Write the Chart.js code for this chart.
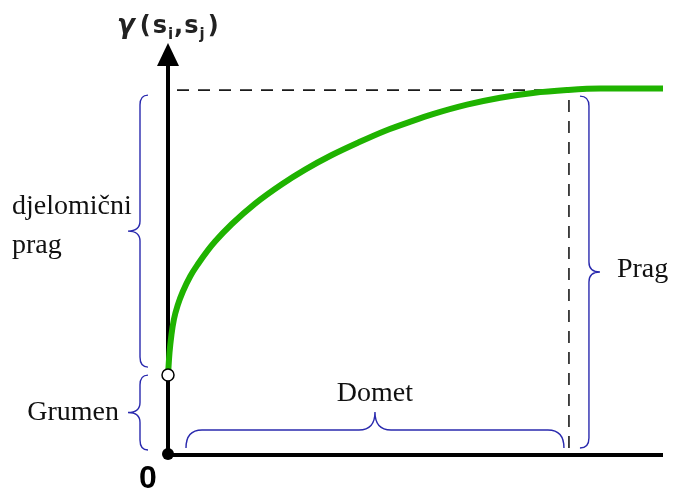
<!DOCTYPE html>
<html>
<head>
<meta charset="utf-8">
<script src="https://cdn.jsdelivr.net/npm/chart.js@4/dist/chart.umd.min.js"></script>
<style>
  html, body { margin: 0; padding: 0; background: #fff; }
  #c { display: block; }
</style>
</head>
<body>
<canvas id="c" width="675" height="492"></canvas>
<script>
// ---- data ----
const distances   = [0, 0.03, 0.07, 0.12, 0.20, 0.30, 0.45, 0.61, 0.80, 0.95, 1.29, 1.76, 2.30, 2.77, 3.31, 3.84, 4.38, 4.93, 5.35, 6.04, 6.71, 7.37, 8.06, 8.73, 10];
const gammaValues = [2.19, 2.80, 3.30, 3.72, 4.12, 4.48, 4.90, 5.24, 5.60, 5.85, 6.33, 6.89, 7.42, 7.82, 8.22, 8.56, 8.88, 9.15, 9.34, 9.60, 9.79, 9.92, 10.0, 10.04, 10.04];
const nugget = 2.19;
const sill = 10;
const range = 8.1;
const xMax = 10;
const yMax = 11.29;
const labels = { nugget: 'Grumen', partial: ['djelomični', 'prag'], range: 'Domet', sill: 'Prag', origin: '0' };

const BLUE = '#2a2aae';
const SERIF = '28px "Liberation Serif", "Times New Roman", serif';

function brace(ctx, orient, a, b, c, dir, endH, tipH, r) {
  const m = (a + b) / 2;
  ctx.beginPath();
  if (orient === 'v') {
    ctx.moveTo(c - dir * endH, a);
    ctx.quadraticCurveTo(c, a, c, a + r);
    ctx.lineTo(c, m - r);
    ctx.quadraticCurveTo(c, m, c + dir * tipH, m);
    ctx.quadraticCurveTo(c, m, c, m + r);
    ctx.lineTo(c, b - r);
    ctx.quadraticCurveTo(c, b, c - dir * endH, b);
  } else {
    ctx.moveTo(a, c - dir * endH);
    ctx.quadraticCurveTo(a, c, a + r, c);
    ctx.lineTo(m - r, c);
    ctx.quadraticCurveTo(m, c, m, c + dir * tipH);
    ctx.quadraticCurveTo(m, c, m + r, c);
    ctx.lineTo(b - r, c);
    ctx.quadraticCurveTo(b, c, b, c - dir * endH);
  }
  ctx.stroke();
  return m;
}

const decor = {
  id: 'decor',
  beforeDatasetsDraw(chart) {
    const ctx = chart.ctx;
    const xs = chart.scales.x, ys = chart.scales.y;
    const x0 = xs.getPixelForValue(0), y0 = ys.getPixelForValue(0);
    const xEnd = xs.getPixelForValue(xMax);
    const yTop = ys.getPixelForValue(yMax);
    const ySill = ys.getPixelForValue(sill);
    const xRange = xs.getPixelForValue(range);
    ctx.save();
    ctx.strokeStyle = '#1a1a1a';
    ctx.lineWidth = 1.6;
    ctx.setLineDash([12, 9]);
    ctx.beginPath();
    ctx.moveTo(x0 + 9, ySill); ctx.lineTo(xRange, ySill);
    ctx.moveTo(xRange, ySill + 10); ctx.lineTo(xRange, y0);
    ctx.stroke();
    ctx.setLineDash([]);
    ctx.strokeStyle = '#000';
    ctx.lineWidth = 4;
    ctx.beginPath();
    ctx.moveTo(x0, y0); ctx.lineTo(xEnd, y0);
    ctx.moveTo(x0, y0); ctx.lineTo(x0, yTop + 20);
    ctx.stroke();
    ctx.fillStyle = '#000';
    ctx.beginPath();
    ctx.moveTo(x0, yTop);
    ctx.lineTo(x0 - 11, yTop + 23);
    ctx.lineTo(x0 + 11, yTop + 23);
    ctx.closePath();
    ctx.fill();
    ctx.restore();
  },
  afterDatasetsDraw(chart) {
    const ctx = chart.ctx;
    const xs = chart.scales.x, ys = chart.scales.y;
    const x0 = xs.getPixelForValue(0), y0 = ys.getPixelForValue(0);
    const yTop = ys.getPixelForValue(yMax);
    const ySill = ys.getPixelForValue(sill);
    const yNug = ys.getPixelForValue(nugget);
    const xRange = xs.getPixelForValue(range);
    ctx.save();
    ctx.fillStyle = '#000';
    ctx.beginPath(); ctx.arc(x0, y0 - 1, 6, 0, Math.PI * 2); ctx.fill();
    ctx.fillStyle = '#fff';
    ctx.strokeStyle = '#000';
    ctx.lineWidth = 1.5;
    ctx.beginPath(); ctx.arc(x0, yNug, 6, 0, Math.PI * 2); ctx.fill(); ctx.stroke();

    ctx.strokeStyle = BLUE;
    ctx.lineWidth = 1.4;
    const bx = x0 - 28;
    const mPartial = brace(ctx, 'v', ySill + 5, yNug - 8, bx, -1, 8, 12, 10);
    const mNug = brace(ctx, 'v', yNug, y0 - 5, bx, -1, 8, 12, 10);
    brace(ctx, 'h', x0 + 18, xRange - 5, y0 - 25, -1, 18, 18, 16);
    const mSill = brace(ctx, 'v', ySill + 6, y0 - 7, xRange + 20, 1, 9, 11, 10);

    ctx.fillStyle = '#111';
    ctx.font = SERIF;
    ctx.textBaseline = 'middle';
    ctx.textAlign = 'left';
    ctx.fillText(labels.partial[0], 12, mPartial - 24);
    ctx.fillText(labels.partial[1], 12, mPartial + 15);
    ctx.textAlign = 'right';
    ctx.fillText(labels.nugget, 119, mNug);
    ctx.textAlign = 'center';
    ctx.fillText(labels.range, (x0 + 18 + xRange - 5) / 2, y0 - 61);
    ctx.textAlign = 'left';
    ctx.fillText(labels.sill, xRange + 48, mSill - 2);

    ctx.fillStyle = '#000';
    ctx.font = 'bold 32px "Liberation Sans", Arial, sans-serif';
    ctx.textAlign = 'center';
    ctx.textBaseline = 'alphabetic';
    ctx.fillText(labels.origin, x0 - 20, y0 + 33);

    // y-axis label  γ(s_i, s_j)
    let x = 117; const base = yTop - 10;
    ctx.textAlign = 'left';
    ctx.fillStyle = '#222';
    const part = (t, font, dy, gap) => { ctx.font = font; ctx.fillText(t, x, base + dy); x += ctx.measureText(t).width + (gap || 0); };
    const F = 'bold 24px "DejaVu Sans", sans-serif';
    const S = 'bold 15px "DejaVu Sans", sans-serif';
    part('γ', 'bold italic 26px "DejaVu Sans", sans-serif', 0, 5);
    part('(', F, 0, 2);
    part('s', F, 0, 1);
    part('i', S, 6, 1);
    part(',', F, 0, 1);
    part('s', F, 0, 1);
    part('j', S, 6, 3);
    part(')', F, 0, 0);
    ctx.restore();
  }
};

new Chart(document.getElementById('c'), {
  type: 'line',
  data: {
    datasets: [{
      label: 'variogram',
      data: distances.map((d, i) => ({ x: d, y: gammaValues[i] })),
      borderColor: '#1fb300',
      borderWidth: 6,
      pointRadius: 0,
      cubicInterpolationMode: 'monotone',
      fill: false,
      clip: false
    }]
  },
  options: {
    responsive: false,
    animation: false,
    events: [],
    layout: { padding: { left: 168, right: 12, top: 43, bottom: 37 } },
    plugins: { legend: { display: false }, tooltip: { enabled: false } },
    scales: {
      x: { type: 'linear', min: 0, max: xMax, display: false },
      y: { type: 'linear', min: 0, max: yMax, display: false }
    }
  },
  plugins: [decor]
});
</script>
</body>
</html>
